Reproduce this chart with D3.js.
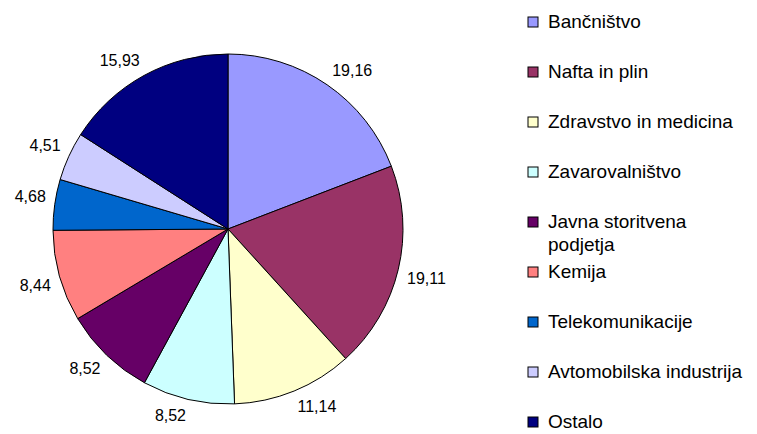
<!DOCTYPE html>
<html><head><meta charset="utf-8">
<script src="https://cdn.jsdelivr.net/npm/d3@7"></script>
<style>body{margin:0;background:#fff}svg{display:block}</style>
</head><body>
<script>
const categories = ["Bančništvo","Nafta in plin","Zdravstvo in medicina","Zavarovalništvo","Javna storitvena podjetja","Kemija","Telekomunikacije","Avtomobilska industrija","Ostalo"];
const values = [19.16,19.11,11.14,8.52,8.52,8.44,4.68,4.51,15.93];
const valueLabels = ["19,16","19,11","11,14","8,52","8,52","8,44","4,68","4,51","15,93"];
const legendLines = [["Bančništvo"],["Nafta in plin"],["Zdravstvo in medicina"],["Zavarovalništvo"],["Javna storitvena","podjetja"],["Kemija"],["Telekomunikacije"],["Avtomobilska industrija"],["Ostalo"]];
const colors = ["#9999FF","#993366","#FFFFCC","#CCFFFF","#660066","#FF8080","#0066CC","#CCCCFF","#000080"];

const W=757,H=434;
const svg=d3.select("body").append("svg").attr("width",W).attr("height",H);
const cx=228, cy=229, r=175;
const color=d3.scaleOrdinal().domain(categories).range(colors);
const pie=d3.pie().sort(null).value(d=>d.v);
const data=categories.map((c,i)=>({c,v:values[i],l:valueLabels[i]}));
const arcs=pie(data);
const arc=d3.arc().innerRadius(0).outerRadius(r);
const g=svg.append("g").attr("transform",`translate(${cx},${cy})`);
g.selectAll("path").data(arcs).join("path")
 .attr("d",arc).attr("fill",d=>color(d.data.c)).attr("stroke","#000").attr("stroke-width",1);
const gap=9;
g.selectAll("text").data(arcs).join("text")
 .attr("text-anchor","middle").attr("dominant-baseline","central")
 .style("font-family","Liberation Sans, Arial, sans-serif").style("font-size","16px").attr("fill","#000")
 .text(d=>d.data.l)
 .each(function(d){
   const w=this.getComputedTextLength();
   const a=(d.startAngle+d.endAngle)/2;
   const s=Math.sin(a), c=Math.cos(a);
   const x=(r+gap)*s+Math.sign(s)*w/2;
   const y=-(r+gap)*c-Math.sign(c)*7;
   d3.select(this).attr("x",x).attr("y",y);
 });

const legY=d3.scalePoint().domain(categories).range([22,422]);
const lg=svg.append("g");
const items=lg.selectAll("g").data(categories).join("g")
 .attr("transform",d=>`translate(528,${legY(d)})`);
items.append("rect").attr("x",0).attr("y",-5).attr("width",10).attr("height",10)
 .attr("fill",d=>color(d)).attr("stroke","#000").attr("stroke-width",1);
items.append("text").attr("x",20).attr("y",0)
 .style("font-family","Liberation Sans, Arial, sans-serif").style("font-size","19px").attr("fill","#000")
 .selectAll("tspan").data((d,i)=>legendLines[i]).join("tspan")
 .attr("x",20).attr("dy",(d,i)=>i===0?"0.32em":"1.2em").text(d=>d);
</script>
</body></html>
